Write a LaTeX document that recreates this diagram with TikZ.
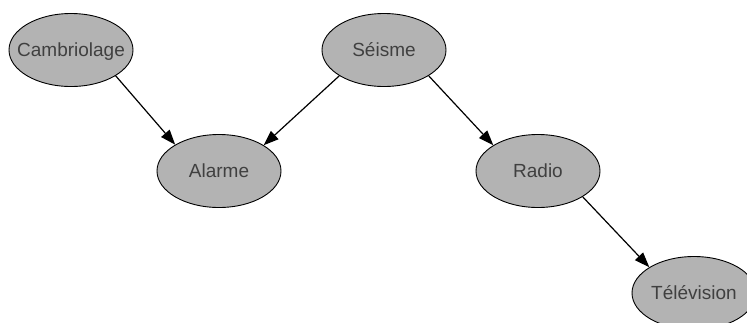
\documentclass[tikz,border=0pt]{standalone}
\usepackage{fontspec}
\setmainfont{Liberation Sans}
\usetikzlibrary{shapes.geometric,arrows.meta}
\definecolor{nodefill}{HTML}{B3B3B3}
\definecolor{nodetext}{HTML}{404040}
\newcommand{\ctext}[1]{\raisebox{-0.36em}[0pt][0pt]{\makebox[0pt]{#1}}}
\tikzset{
  bnode/.style={ellipse, draw=black, line width=0.9pt, fill=nodefill,
    minimum width=124pt, minimum height=73pt, inner sep=0pt,
    text=nodetext, font=\fontsize{19pt}{22pt}\selectfont},
  link/.style={draw=black, line width=1.2pt,
    -{Triangle[length=15pt,width=11pt]}}
}
\begin{document}
\begin{tikzpicture}[x=1pt,y=1pt]
\useasboundingbox (0,0) rectangle (747,-322);
\clip (0,0) rectangle (747,-322);
\node[bnode] (cam) at (71,-50) {\ctext{Cambriolage}};
\node[bnode] (sei) at (384,-50) {\ctext{Séisme}};
\node[bnode] (ala) at (219,-171) {\ctext{Alarme}};
\node[bnode] (rad) at (538,-171) {\ctext{Radio}};
\node[bnode] (tel) at (694,-293) {\ctext{Télévision}};
\draw[link] (cam.-30.6) -- (ala.149);
\draw[link] (sei.210.6) -- (ala.30.6);
\draw[link] (sei.-30.6) -- (rad.150);
\draw[link] (rad.-30) -- (tel.150);
\end{tikzpicture}
\end{document}
